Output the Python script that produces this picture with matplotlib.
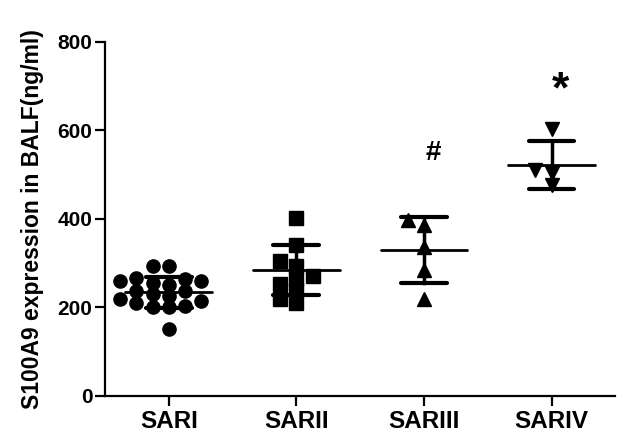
import numpy as np
import matplotlib.pyplot as plt

plt.rcParams['font.family'] = ['Liberation Sans', 'DejaVu Sans']
plt.rcParams['font.weight'] = 'bold'

groups = ['SARI', 'SARII', 'SARIII', 'SARIV']
sari = [293, 293, 267, 264, 260, 260, 255, 250, 237, 237, 230, 226, 220, 215, 210, 203, 200, 200, 151]
sarii = [402, 340, 305, 293, 272, 265, 252, 240, 218, 210]
sariii = [398, 386, 337, 285, 218]
sariv = [604, 510, 503, 476]
means = [234, 285, 330, 521]
sds = [35, 56, 75, 54]
markers = ['o', 's', '^', 'v']
marks = ['', '', '#', '*']
mark_y = [0, 0, 549, 690]

values = [sari, sarii, sariii, sariv]

fig = plt.figure(figsize=(6.33, 4.33), dpi=100)
ax = fig.add_axes([0.166, 0.0855, 0.806, 0.818])
ax.set_xlim(-0.5, 3.5)
ax.set_ylim(0, 800)

# pixel scale of data units, for the swarm layout
px_x = 0.806 * 633 / 4.0
px_y = 0.818 * 433 / 800.0


def swarm(vals, diam, gap=0.8, step=1.25):
    # simple beeswarm, lowest value first, each point takes the nearest free slot
    placed = []
    offs = {}
    order = sorted(range(len(vals)), key=lambda j: vals[j])
    for j in order:
        yv = vals[j] * px_y
        k = 0
        while True:
            cands = [0.0] if k == 0 else [-k * step * diam, k * step * diam]
            ok = None
            for c in cands:
                if all((c - px) ** 2 + (yv - py) ** 2 >= (gap * diam) ** 2 for px, py in placed):
                    ok = c
                    break
            if ok is not None:
                placed.append((ok, yv))
                offs[j] = ok / px_x
                break
            k += 1
    return [offs[j] for j in range(len(vals))]


for i, vals in enumerate(values):
    offs = swarm(vals, 13)
    ax.plot([i + o for o in offs], vals, linestyle='none', marker=markers[i],
            markersize=9.5 if markers[i] in 'os' else 10, color='black')
    m, s = means[i], sds[i]
    ax.plot([i - 0.34, i + 0.34], [m, m], color='black', lw=2, solid_capstyle='round')
    ax.plot([i, i], [m - s, m + s], color='black', lw=2.5)
    for yy in (m - s, m + s):
        ax.plot([i - 0.18, i + 0.18], [yy, yy], color='black', lw=3, solid_capstyle='round')
    if marks[i]:
        ax.text(i + 0.07, mark_y[i], marks[i], ha='center', va='center',
                fontsize=20 if marks[i] == '#' else 32, fontweight='bold')

ax.set_xticks(range(4))
ax.set_xticklabels(groups, fontsize=17.5, fontweight='bold')
ax.set_yticks([0, 200, 400, 600, 800])
ax.tick_params(axis='y', labelsize=15, width=1.6, length=7, pad=2)
ax.tick_params(axis='x', width=1.6, length=7, pad=3)
for lab in ax.get_yticklabels():
    lab.set_fontweight('bold')
ax.set_ylabel('S100A9 expression in BALF(ng/ml)', fontsize=16.5, fontweight='bold', labelpad=10)
for side in ('top', 'right'):
    ax.spines[side].set_visible(False)
for side in ('left', 'bottom'):
    ax.spines[side].set_linewidth(1.6)

fig.savefig('out.png', dpi=100)
